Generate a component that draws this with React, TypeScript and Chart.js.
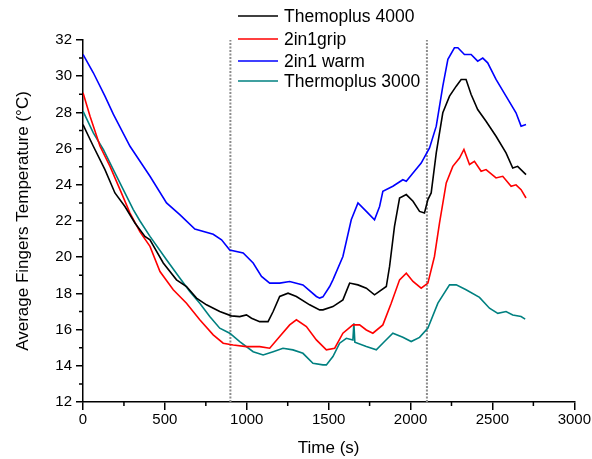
import React, { useEffect, useRef } from "react";
import { Chart, registerables } from "chart.js";

Chart.register(...registerables);

const FONT = "'Liberation Sans', Arial, sans-serif";

const seriesNames = ["Themoplus 4000", "2in1grip", "2in1 warm", "Thermoplus 3000"];
const seriesColors = ["#000000", "#ff0000", "#0000ff", "#008080"];

const thermo4000Time = [0, 63, 134, 195, 256, 317, 378, 409, 490, 571, 632, 693, 754, 835, 906, 957, 998, 1029, 1079, 1130, 1161, 1201, 1252, 1303, 1384, 1445, 1465, 1526, 1587, 1628, 1679, 1730, 1780, 1852, 1872, 1902, 1933, 1974, 2015, 2055, 2085, 2106, 2126, 2157, 2197, 2238, 2279, 2309, 2339, 2370, 2410, 2461, 2522, 2583, 2624, 2654, 2705];
const thermo4000Temp = [27.33, 26.13, 24.84, 23.55, 22.8, 21.89, 21.15, 20.96, 19.68, 18.75, 18.38, 17.74, 17.37, 17.0, 16.76, 16.72, 16.81, 16.63, 16.44, 16.44, 17.0, 17.83, 18.01, 17.83, 17.37, 17.09, 17.09, 17.27, 17.64, 18.57, 18.47, 18.29, 17.92, 18.38, 19.49, 21.7, 23.27, 23.46, 23.09, 22.53, 22.44, 23.18, 23.55, 25.76, 27.98, 28.9, 29.45, 29.82, 29.82, 28.99, 28.16, 27.51, 26.68, 25.76, 24.93, 25.02, 24.56];

const grip2in1Time = [0, 43, 104, 165, 226, 287, 348, 409, 470, 551, 632, 713, 795, 856, 917, 998, 1079, 1140, 1201, 1262, 1303, 1364, 1425, 1486, 1537, 1587, 1648, 1689, 1730, 1770, 1831, 1882, 1933, 1974, 2015, 2065, 2106, 2146, 2177, 2218, 2258, 2299, 2326, 2360, 2390, 2431, 2461, 2522, 2563, 2614, 2644, 2675, 2705];
const grip2in1Temp = [29.08, 27.79, 26.13, 25.02, 23.73, 22.44, 21.4, 20.6, 19.21, 18.2, 17.46, 16.54, 15.71, 15.25, 15.15, 15.06, 15.06, 14.97, 15.62, 16.26, 16.54, 16.17, 15.43, 14.88, 14.97, 15.8, 16.26, 16.26, 15.98, 15.8, 16.26, 17.46, 18.75, 19.12, 18.66, 18.29, 18.57, 20.04, 21.89, 24.1, 25.02, 25.48, 25.95, 25.12, 25.3, 24.75, 24.84, 24.38, 24.47, 23.92, 24.0, 23.73, 23.27];

const warm2in1Time = [0, 63, 134, 185, 287, 348, 409, 510, 591, 683, 795, 846, 896, 978, 1039, 1090, 1140, 1201, 1262, 1343, 1425, 1445, 1465, 1506, 1526, 1587, 1638, 1679, 1730, 1780, 1811, 1831, 1892, 1953, 1974, 2015, 2065, 2116, 2157, 2197, 2228, 2268, 2289, 2329, 2370, 2410, 2441, 2471, 2522, 2583, 2644, 2675, 2705];
const warm2in1Temp = [31.2, 30.19, 28.9, 27.9, 26.13, 25.3, 24.47, 23.0, 22.35, 21.55, 21.27, 20.96, 20.4, 20.23, 19.68, 18.94, 18.57, 18.57, 18.66, 18.47, 17.83, 17.74, 17.81, 18.38, 18.75, 20.04, 22.07, 23.0, 22.53, 22.07, 22.8, 23.64, 23.92, 24.28, 24.2, 24.65, 25.2, 26.04, 27.24, 29.45, 30.93, 31.57, 31.57, 31.2, 31.2, 30.83, 31.0, 30.74, 29.82, 28.9, 27.98, 27.24, 27.33];

const thermo3000Time = [0, 63, 124, 185, 246, 307, 348, 409, 510, 591, 652, 713, 774, 835, 896, 957, 1039, 1100, 1161, 1221, 1282, 1343, 1404, 1465, 1486, 1526, 1567, 1608, 1648, 1654, 1660, 1730, 1791, 1841, 1892, 1953, 2004, 2055, 2106, 2167, 2238, 2279, 2339, 2421, 2482, 2533, 2583, 2624, 2675, 2700];
const thermo3000Temp = [28.07, 26.87, 25.95, 24.84, 23.73, 22.63, 22.0, 21.15, 19.86, 18.85, 18.1, 17.46, 16.72, 16.08, 15.8, 15.34, 14.78, 14.6, 14.78, 14.97, 14.88, 14.69, 14.14, 14.05, 14.05, 14.51, 15.25, 15.52, 15.43, 16.35, 15.3, 15.06, 14.88, 15.34, 15.8, 15.58, 15.34, 15.57, 16.08, 17.46, 18.47, 18.47, 18.2, 17.78, 17.18, 16.9, 17.0, 16.81, 16.72, 16.58];

const markerTimes = [900, 2100];
const xMajorTicks = [0, 500, 1000, 1500, 2000, 2500, 3000];
const xMinorTicks = [250, 750, 1250, 1750, 2250, 2750];
const yMajorTicks = [12, 14, 16, 18, 20, 22, 24, 26, 28, 30, 32];
const yMinorTicks = [13, 15, 17, 19, 21, 23, 25, 27, 29, 31];

const xTitle = "Time (s)";
const yTitle = "Average Fingers Temperature (°C)";

const toPoints = (t: number[], v: number[]) => t.map((x, i) => ({ x, y: v[i] }));

const minorTickPlugin = {
  id: "minorTicks",
  afterDraw(chart: any) {
    const ctx = chart.ctx;
    const xs = chart.scales.x;
    const ys = chart.scales.y;
    const area = chart.chartArea;
    ctx.save();
    ctx.strokeStyle = "#000";
    ctx.lineWidth = 1.5;
    ctx.beginPath();
    xMinorTicks.forEach((v) => {
      const px = xs.getPixelForValue(v);
      ctx.moveTo(px, area.bottom);
      ctx.lineTo(px, area.bottom + 4);
    });
    yMinorTicks.forEach((v) => {
      const py = ys.getPixelForValue(v);
      ctx.moveTo(area.left, py);
      ctx.lineTo(area.left - 4, py);
    });
    ctx.stroke();
    ctx.restore();
  },
};

const legendPlugin = {
  id: "customLegend",
  afterDraw(chart: any) {
    const ctx = chart.ctx;
    const rows = [16, 39, 61, 81];
    ctx.save();
    ctx.font = `17.5px ${FONT}`;
    ctx.textBaseline = "middle";
    ctx.textAlign = "left";
    seriesNames.forEach((name, i) => {
      ctx.strokeStyle = seriesColors[i];
      ctx.lineWidth = 1.5;
      ctx.beginPath();
      ctx.moveTo(238, rows[i]);
      ctx.lineTo(278, rows[i]);
      ctx.stroke();
      ctx.fillStyle = "#000";
      ctx.fillText(name, 284, rows[i] + 1);
    });
    ctx.restore();
  },
};

export default function App() {
  const ref = useRef<HTMLCanvasElement | null>(null);

  useEffect(() => {
    if (!ref.current) return;
    const seriesData = [
      toPoints(thermo4000Time, thermo4000Temp),
      toPoints(grip2in1Time, grip2in1Temp),
      toPoints(warm2in1Time, warm2in1Temp),
      toPoints(thermo3000Time, thermo3000Temp),
    ];
    const markerSets = markerTimes.map((t) => ({
      label: "marker" + t,
      data: [
        { x: t, y: 12 },
        { x: t, y: 32 },
      ],
      borderColor: "#8c8c8c",
      borderWidth: 2,
      borderDash: [2, 1.5],
      pointRadius: 0,
      order: 10,
    }));
    const lineSets = seriesNames.map((name, i) => ({
      label: name,
      data: seriesData[i],
      borderColor: seriesColors[i],
      borderWidth: 1.6,
      pointRadius: 0,
      tension: 0,
      order: i,
    }));

    const chart = new Chart(ref.current, {
      type: "line",
      data: { datasets: [...markerSets, ...lineSets] as any },
      options: {
        responsive: false,
        animation: false,
        layout: { padding: { top: 40, right: 17, left: 0, bottom: 0 } },
        plugins: { legend: { display: false }, tooltip: { enabled: false } },
        elements: { point: { radius: 0 } },
        scales: {
          x: {
            type: "linear",
            min: 0,
            max: 3000,
            afterFit: (s: any) => {
              s.height = 57;
            },
            afterBuildTicks: (s: any) => {
              s.ticks = xMajorTicks.map((v) => ({ value: v }));
            },
            ticks: {
              color: "#000",
              font: { family: FONT, size: 15 },
              padding: 1,
              maxRotation: 0,
              autoSkip: false,
              callback: (v: any) => String(v),
            },
            grid: {
              drawOnChartArea: false,
              drawTicks: true,
              tickLength: 8,
              color: "#000",
              lineWidth: 1.5,
            },
            border: { display: true, color: "#000", width: 1.5 },
            title: {
              display: true,
              text: xTitle,
              color: "#000",
              font: { family: FONT, size: 17 },
              padding: { top: 0, bottom: 0 },
            },
          },
          y: {
            type: "linear",
            min: 12,
            max: 32,
            afterFit: (s: any) => {
              s.width = 83;
            },
            afterBuildTicks: (s: any) => {
              s.ticks = yMajorTicks.map((v) => ({ value: v }));
            },
            ticks: {
              color: "#000",
              font: { family: FONT, size: 15 },
              padding: 4,
              autoSkip: false,
              callback: (v: any) => String(v),
            },
            grid: {
              drawOnChartArea: false,
              drawTicks: true,
              tickLength: 7,
              color: "#000",
              lineWidth: 1.5,
            },
            border: { display: true, color: "#000", width: 1.5 },
            title: {
              display: true,
              text: yTitle,
              color: "#000",
              font: { family: FONT, size: 17 },
              padding: { top: 13, bottom: 0 },
            },
          },
        },
      },
      plugins: [minorTickPlugin, legendPlugin],
    });
    return () => chart.destroy();
  }, []);

  return (
    <div style={{ position: "absolute", left: 0, top: 0, width: 592, height: 459, background: "#fff" }}>
      <canvas ref={ref} width={592} height={459} style={{ display: "block" }} />
    </div>
  );
}
